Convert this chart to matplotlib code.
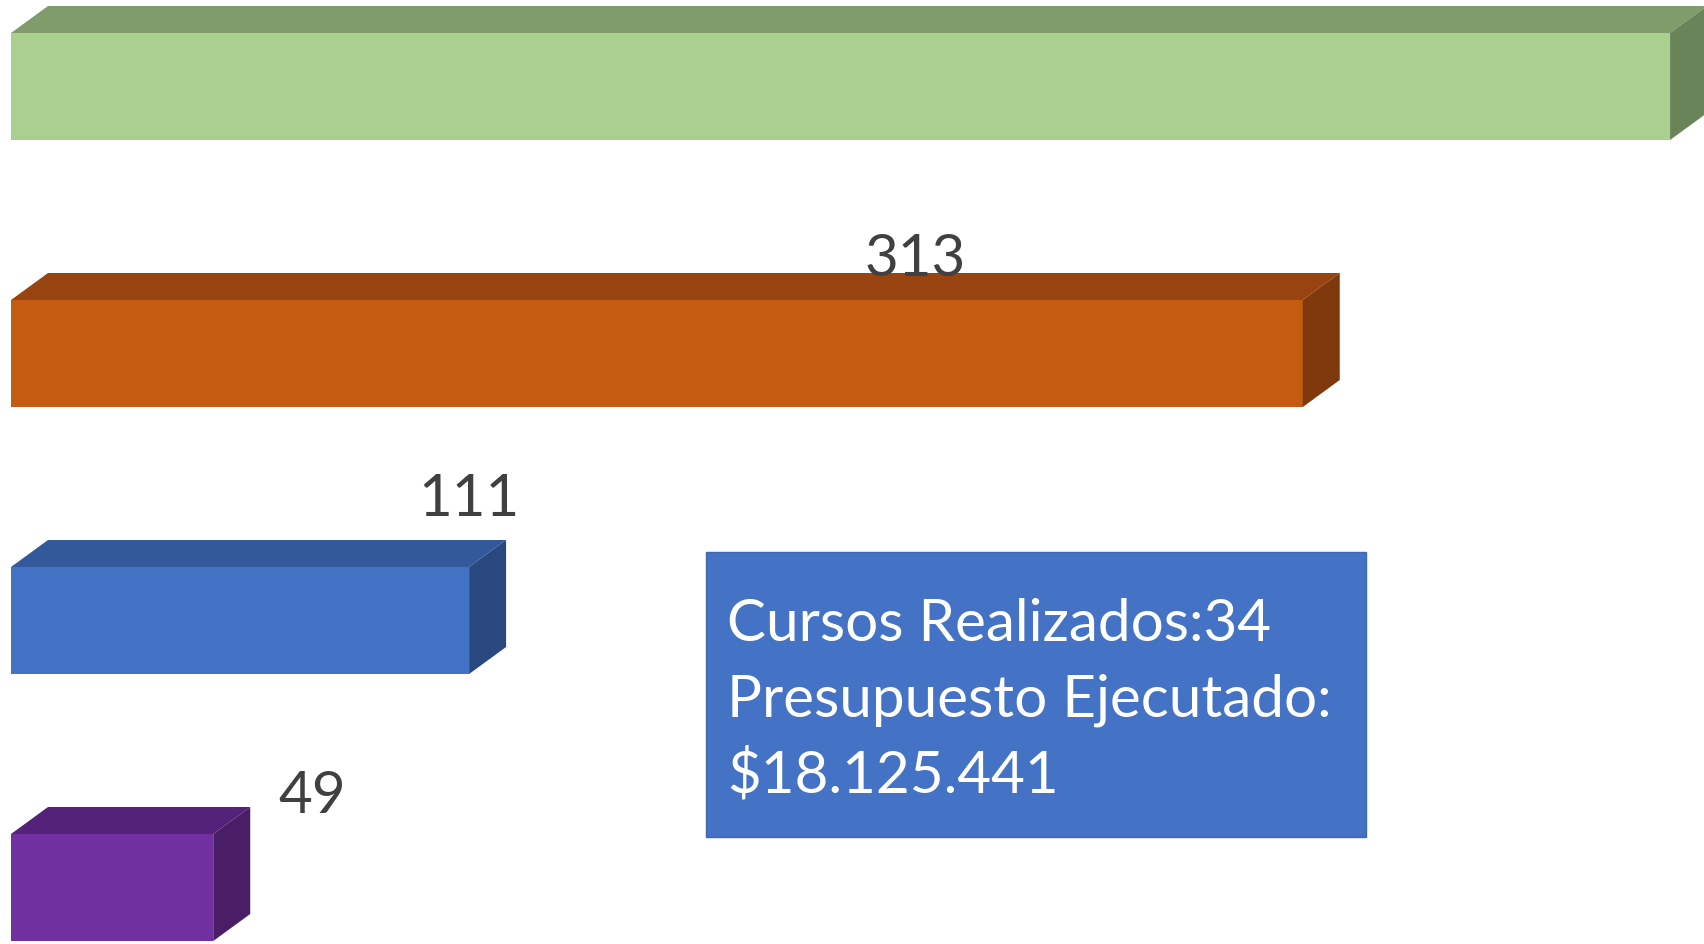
import matplotlib.pyplot as plt
from matplotlib.patches import Polygon, Rectangle

# data (top to bottom)
values = [402, 313, 111, 49]
labels = ["", "313", "111", "49"]
label_x = [0, 219, 111, 73]             # value label centres (value units)
label_base = [0, -0.29, -0.39, -0.28]   # value label baselines, relative to row centre
front = ["#A9D08E", "#C55A11", "#4472C4", "#7030A0"]
top = ["#809C6B", "#974411", "#33599A", "#542379"]
side = ["#6A845A", "#7F390C", "#2A4880", "#4A1E66"]

box_lines = ["Cursos Realizados:34", "Presupuesto Ejecutado:", "$18.125.441"]

W, H = 1704, 944
px_per_unit = 4.127
left_px = 11
row_px = 267.0
first_px = 86.5

fig = plt.figure(figsize=(W / 100, H / 100), dpi=100)
ax = fig.add_axes([0, 0, 1, 1])
ax.set_xlim(-left_px / px_per_unit, (W - left_px) / px_per_unit)
ax.set_ylim((H - first_px) / row_px, -first_px / row_px)
ax.axis("off")

h = 107 / row_px
dx = 37 / px_per_unit
dy = 27 / row_px

for i, v in enumerate(values):
    y0 = i - h / 2
    y1 = i + h / 2
    ax.add_patch(Rectangle((0, y0), v, h, facecolor=front[i], edgecolor="none", zorder=2))
    ax.add_patch(Polygon([(0, y0), (dx, y0 - dy), (v + dx, y0 - dy), (v, y0)],
                         closed=True, facecolor=top[i], edgecolor="none", zorder=2))
    ax.add_patch(Polygon([(v, y0), (v + dx, y0 - dy), (v + dx, y1 - dy), (v, y1)],
                         closed=True, facecolor=side[i], edgecolor="none", zorder=2))
    if labels[i]:
        ax.text(label_x[i], i + label_base[i], labels[i], ha="center", va="baseline",
                fontsize=42, color="#404040", family="Lato", zorder=3)

# text box
bx0 = (706 - left_px) / px_per_unit
bx1 = (1366 - left_px) / px_per_unit
by0 = (552 - first_px) / row_px
by1 = (837 - first_px) / row_px
ax.add_patch(Rectangle((bx0, by0), bx1 - bx0, by1 - by0, facecolor="#4472C4",
                       edgecolor="#3E68B4", lw=1, zorder=2))
for k, line in enumerate(box_lines):
    base = (641 + 76 * k - first_px) / row_px
    ax.text((727 - left_px) / px_per_unit, base, line, ha="left", va="baseline",
            fontsize=42, color="white", family="Lato", zorder=3)

fig.savefig("out.png", dpi=100)
